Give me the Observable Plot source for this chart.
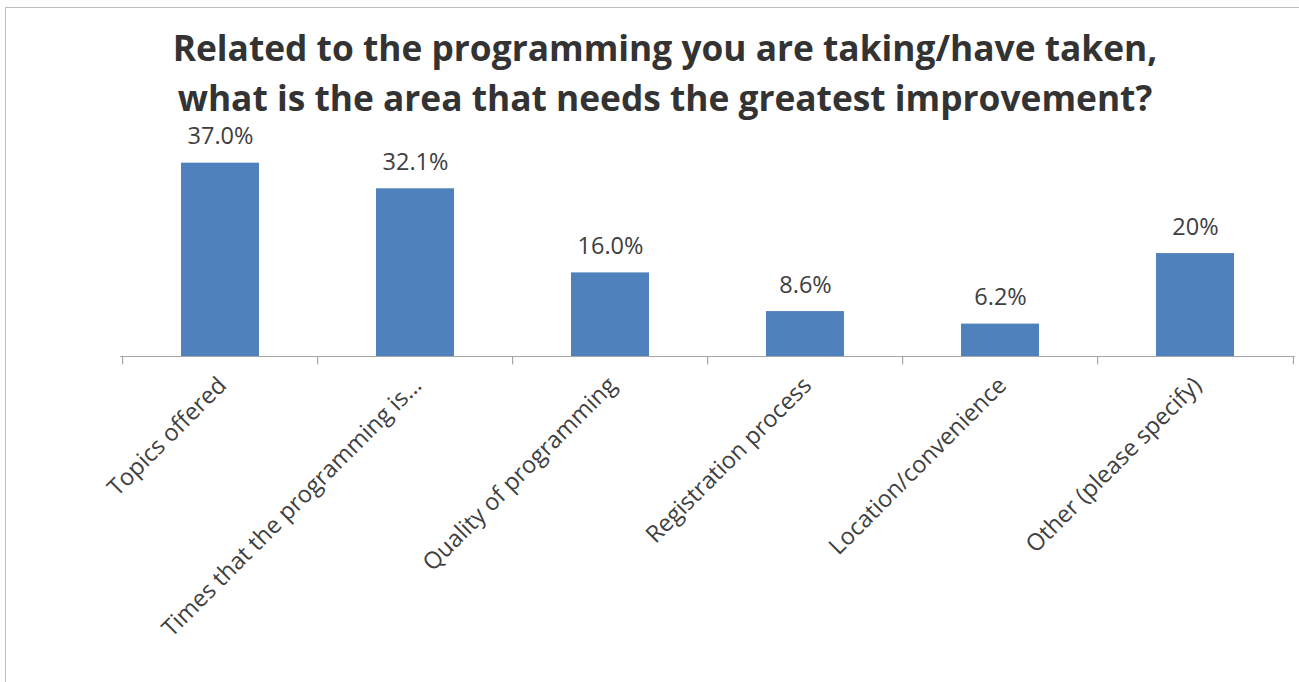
<!DOCTYPE html>
<html>
<head>
<meta charset="utf-8">
<script src="https://cdn.jsdelivr.net/npm/d3@7"></script>
<script src="https://cdn.jsdelivr.net/npm/@observablehq/plot@0.6"></script>
<style>
  html, body { margin: 0; padding: 0; background: #fff; width: 1299px; height: 682px; overflow: hidden; }
  #frame { position: absolute; left: 5px; top: 7px; width: 1400px; height: 800px; border: 1.5px solid #bdbdbd; box-sizing: border-box; }
  #title { position: absolute; left: 0; width: 1330px; top: 22px; text-align: center; font-family: "Open Sans", sans-serif; font-weight: bold; font-size: 35.3px; line-height: 50px; color: #333; }
  #chart { position: absolute; left: 0; top: 0; }
</style>
</head>
<body>
<div id="frame"></div>
<div id="chart"></div>
<div id="title">Related to the programming you are taking/have taken,<br>what is the area that needs the greatest improvement?</div>
<script>
const categories = ["Topics offered", "Times that the programming is…", "Quality of programming", "Registration process", "Location/convenience", "Other (please specify)"];
const values = [37.0, 32.1, 16.0, 8.6, 6.2, 19.7];
const valueLabels = ["37.0%", "32.1%", "16.0%", "8.6%", "6.2%", "20%"];

const data = categories.map((c, i) => ({category: c, value: values[i], label: valueLabels[i]}));

const W = 1299, H = 682;
const mL = 120, mR = 4;
const bw = (W - mL - mR) / categories.length;
const font = "'Open Sans', sans-serif";

const chart = Plot.plot({
  width: W,
  height: H,
  marginLeft: mL,
  marginRight: mR,
  marginTop: 147,
  marginBottom: 326,
  style: {fontFamily: font, background: "transparent", overflow: "visible"},
  x: {domain: categories, paddingInner: 0.6, paddingOuter: 0.3, label: null},
  y: {domain: [0, 40], axis: null},
  marks: [
    Plot.barY(data, {x: "category", y: "value", fill: "#4F81BD"}),
    Plot.ruleY([0], {stroke: "#a6a6a6", strokeWidth: 1.2}),
    Plot.ruleX(categories, {x: d => d, y1: 0, y2: -1.6, dx: -bw / 2, stroke: "#a6a6a6", strokeWidth: 1.2}),
    Plot.ruleX(categories.slice(-1), {x: d => d, y1: 0, y2: -1.6, dx: bw / 2, stroke: "#a6a6a6", strokeWidth: 1.2}),
    Plot.axisX({tickSize: 0, tickPadding: 25, dx: 2, tickRotate: -45, fontSize: 23.5, fill: "#404040", label: null}),
    Plot.text(data, {x: "category", y: "value", text: "label", dy: -19, lineAnchor: "bottom", fontSize: 23.5, fill: "#404040"})
  ]
});
document.getElementById("chart").appendChild(chart);
</script>
</body>
</html>
